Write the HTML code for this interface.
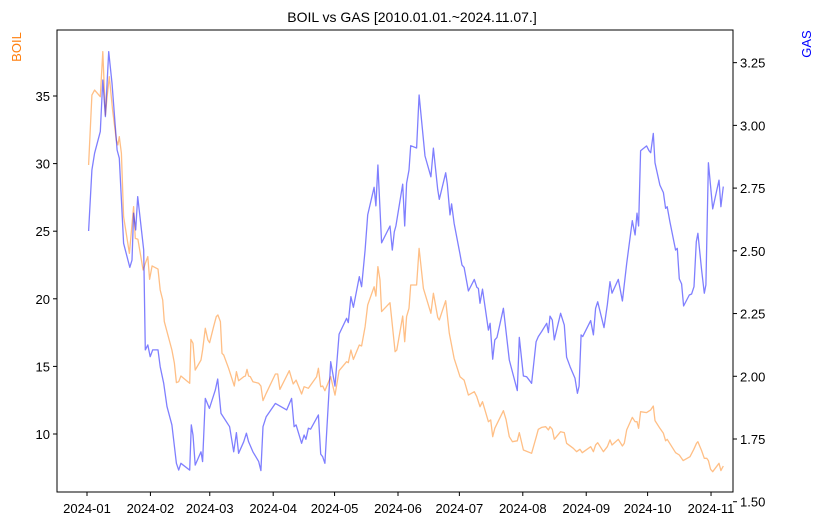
<!DOCTYPE html>
<html><head><meta charset="utf-8"><style>
html,body{margin:0;padding:0;background:#fff;}
svg{display:block;font-family:"Liberation Sans","DejaVu Sans",sans-serif;}
</style></head><body>
<svg id="chart" width="824" height="526" viewBox="0 0 824 526"></svg>
<script>
const monthLabels=["2024-01","2024-02","2024-03","2024-04","2024-05","2024-06","2024-07","2024-08","2024-09","2024-10","2024-11"];
const monthDays=[0,31,60,91,121,152,182,213,244,274,305];
const boilTicks=[10,15,20,25,30,35];
const gasTicks=[1.50,1.75,2.00,2.25,2.50,2.75,3.00,3.25];
const gasDays=[0.8,2.4,3.7,6.5,7.7,9.0,10.6,12.2,14.7,15.8,17.9,20.9,22.0,22.8,23.8,24.8,27.7,28.5,29.7,30.9,32.1,34.7,35.8,37.5,39.1,41.5,43.7,44.8,45.9,50.2,51.0,51.8,52.9,55.7,56.5,57.8,59.8,62.7,63.9,65.5,69.7,71.7,73.0,74.1,76.6,77.9,79.0,81.1,83.9,85.0,86.0,87.6,92.1,
97.6,100.0,101.2,102.2,104.9,106.1,107.0,108.2,109.3,113.1,114.2,115.2,116.3,119.1,121.2,123.2,126.9,127.7,129.0,130.2,133.1,134.2,135.9,137.2,140.3,141.2,142.2,144.0,148.1,149.2,150.2,151.0,154.3,155.3,156.2,157.4,158.2,161.1,162.3,165.2,168.1,169.3,171.4,172.2,175.3,176.1,177.4,178.2,179.4,182.3,183.3,184.3,186.4,189.3,190.5,191.3,192.1,193.3,196.2,197.0,198.3,199.3,200.4,
203.5,206.4,210.3,211.3,213.3,214.9,217.3,219.5,220.6,222.2,224.7,225.5,226.3,227.4,228.4,231.5,233.3,234.4,236.1,238.5,239.7,240.5,241.5,242.3,246.2,247.5,248.6,249.6,252.7,254.3,255.6,256.6,259.7,261.7,263.8,266.5,267.9,268.8,269.6,270.6,273.5,274.7,275.5,276.8,277.6,280.0,281.7,282.8,283.6,284.9,287.7,288.5,289.5,290.6,291.6,294.4,295.5,296.7,297.8,298.6,300.4,301.7,302.5,303.7,305.8,308.9,309.8,311.0];
const gasValues=[2.579,2.822,2.889,2.975,3.181,3.035,3.294,3.168,2.902,2.869,2.530,2.434,2.463,2.650,2.583,2.716,2.503,2.105,2.125,2.078,2.105,2.105,2.038,1.972,1.879,1.806,1.653,1.626,1.653,1.626,1.806,1.766,1.646,1.699,1.660,1.912,1.872,1.945,1.989,1.852,1.799,1.699,1.775,1.693,1.739,1.773,1.739,1.699,1.660,1.624,1.799,1.839,1.892,
1.866,1.912,1.799,1.806,1.733,1.766,1.749,1.793,1.789,1.846,1.690,1.679,1.653,2.058,1.961,2.168,2.231,2.214,2.317,2.275,2.397,2.357,2.503,2.643,2.753,2.679,2.842,2.532,2.599,2.503,2.576,2.599,2.766,2.599,2.769,2.822,2.919,2.910,3.121,2.878,2.795,2.909,2.745,2.705,2.811,2.766,2.643,2.687,2.610,2.487,2.443,2.434,2.340,2.386,2.355,2.350,2.291,2.347,2.184,2.211,2.068,2.145,2.155,
2.271,2.065,1.943,2.155,2.001,1.998,1.972,2.138,2.158,2.178,2.211,2.174,2.240,2.224,2.145,2.251,2.204,2.076,2.038,1.992,1.932,1.961,2.165,2.158,2.222,2.165,2.271,2.297,2.194,2.284,2.377,2.331,2.386,2.300,2.450,2.620,2.563,2.650,2.599,2.899,2.918,2.899,2.891,2.968,2.851,2.762,2.732,2.669,2.676,2.616,2.503,2.510,2.388,2.368,2.280,2.324,2.328,2.357,2.536,2.570,2.424,2.331,2.364,2.851,2.667,2.782,2.676,2.756];
const boilDays=[0.8,2.4,3.7,6.5,7.7,9.0,9.8,10.9,12.5,14.3,15.1,15.8,16.8,17.9,20.7,22.8,23.6,24.9,27.4,28.5,29.7,30.6,31.8,34.7,35.8,37.0,37.8,41.5,42.7,43.7,44.8,45.9,50.2,50.8,51.8,52.9,55.7,56.5,57.8,59.1,59.9,61.9,63.2,64.0,65.2,66.0,66.8,69.2,72.0,73.0,74.1,76.6,77.4,78.2,79.0,79.8,81.1,83.9,85.0,86.0,87.6,92.1,93.2,
94.3,98.9,100.8,102.2,104.9,106.1,108.2,112.2,113.1,114.2,115.2,116.3,119.1,121.2,123.2,126.9,127.7,129.0,130.2,133.1,134.2,135.9,137.2,140.3,141.2,142.2,143.2,144.0,148.1,150.6,151.4,154.3,155.3,156.2,157.4,158.2,161.1,162.3,164.4,168.1,169.3,171.4,172.2,175.3,177.1,179.4,182.3,184.3,186.4,189.3,190.5,192.1,193.3,196.2,197.3,198.3,199.3,
203.5,204.8,206.4,207.9,210.3,211.3,213.3,217.3,219.5,220.6,222.2,224.2,225.5,226.3,227.4,228.4,231.5,233.3,234.4,237.7,239.3,240.9,242.1,246.2,247.5,248.6,249.6,252.4,254.3,255.6,256.6,259.7,261.7,262.6,263.8,266.5,267.9,268.8,269.6,270.6,273.5,275.5,276.8,277.6,280.0,281.7,282.8,283.6,287.7,289.5,291.4,294.7,296.6,297.9,298.6,300.4,301.7,302.9,303.7,304.8,305.8,308.9,309.8,311.0];
const boilValues=[29.90,35.07,35.44,34.95,38.28,33.59,34.95,36.43,33.96,31.75,31.38,31.99,30.76,26.08,23.36,26.81,24.47,24.40,22.13,22.62,23.12,21.44,22.43,22.20,20.65,19.91,18.31,16.21,15.23,13.80,13.87,14.29,13.75,17.00,16.71,14.73,15.47,16.21,17.82,16.95,16.75,17.94,18.68,18.80,18.31,15.97,15.84,14.86,13.55,14.61,13.94,14.24,14.29,14.78,14.29,14.24,13.87,13.75,13.55,12.47,13.01,14.44,14.44,
13.30,14.68,13.70,13.99,12.96,13.50,13.38,14.24,14.86,13.50,13.55,13.20,14.24,12.88,14.68,15.35,15.27,16.21,15.52,16.58,16.51,17.94,19.54,20.89,20.20,22.38,21.39,19.05,19.71,16.09,16.21,18.73,16.83,18.68,19.30,21.02,21.02,23.73,20.77,18.93,20.41,18.63,18.43,19.86,17.45,15.60,14.24,13.99,12.88,13.13,12.76,12.02,12.39,10.91,11.04,9.80,10.42,
11.72,11.09,9.80,9.43,9.50,10.10,8.82,8.57,9.75,10.35,10.49,10.54,10.30,10.54,10.35,9.61,10.17,10.10,9.31,8.94,8.69,8.87,8.62,9.06,8.69,9.19,9.36,8.69,9.06,9.56,9.19,9.61,9.11,9.31,10.30,11.23,10.91,10.91,10.42,11.65,11.58,11.78,12.07,10.99,10.42,10.05,9.50,9.61,8.62,8.45,8.03,8.32,8.87,9.31,9.43,8.77,8.20,8.20,8.03,7.39,7.21,7.83,7.29,7.63];

const L=57,R=733,T=30,B=492;
const xS=d=>87+d*2.046;
const yBoil=v=>434-(v-10)*13.52;
const yGas=v=>439-(v-1.75)*250.9;
const svg=document.getElementById('chart');
const NS='http://www.w3.org/2000/svg';
function mk(tag,attrs,parent){const e=document.createElementNS(NS,tag);for(const k in attrs)e.setAttribute(k,attrs[k]);(parent||svg).appendChild(e);return e;}

const title=mk('text',{x:412,y:22,'text-anchor':'middle','font-size':14,fill:'#000'});
title.textContent='BOIL vs GAS [2010.01.01.~2024.11.07.]';



const boilPath=mk('path',{d:boilDays.map((d,i)=>(i?'L':'M')+xS(d).toFixed(1)+','+yBoil(boilValues[i]).toFixed(1)).join(''),fill:'none',stroke:'#ff7f0e','stroke-opacity':0.5,'stroke-width':1.3,'stroke-linejoin':'round'});


const gasPath=mk('path',{d:gasDays.map((d,i)=>(i?'L':'M')+xS(d).toFixed(1)+','+yGas(gasValues[i]).toFixed(1)).join(''),fill:'none',stroke:'#0000ff','stroke-opacity':0.5,'stroke-width':1.3,'stroke-linejoin':'round'});



const frame=mk('rect',{x:L,y:T,width:R-L,height:B-T,fill:'none',stroke:'#000','stroke-width':1});



monthDays.forEach((d,i)=>{const x=xS(d);
 const t=mk('line',{x1:x,x2:x,y1:B,y2:B+4,stroke:'#000'});
 
 
 const lb=mk('text',{x:x,y:B+21,'text-anchor':'middle','font-size':13,fill:'#000'});
 lb.textContent=monthLabels[i];
 
 });
boilTicks.forEach(v=>{const y=yBoil(v);
 const t=mk('line',{x1:L-4,x2:L,y1:y,y2:y,stroke:'#000'});
 
 
 const lb=mk('text',{x:L-7,y:y+5,'text-anchor':'end','font-size':13,fill:'#000'});
 lb.textContent=v;
 
 });
gasTicks.forEach(v=>{const y=yGas(v);
 const t=mk('line',{x1:R,x2:R+4,y1:y,y2:y,stroke:'#000'});
 
 
 const lb=mk('text',{x:R+7,y:y+5,'text-anchor':'start','font-size':13,fill:'#000'});
 lb.textContent=v.toFixed(2);
 
 });

const yl=mk('text',{x:0,y:0,transform:'translate(21,47) rotate(-90)','text-anchor':'middle','font-size':13,fill:'#ff7f0e'});
yl.textContent='BOIL';


const yr=mk('text',{x:0,y:0,transform:'translate(811,44) rotate(-90)','text-anchor':'middle','font-size':13,fill:'#0000ff'});
yr.textContent='GAS';


</script>
</body></html>
